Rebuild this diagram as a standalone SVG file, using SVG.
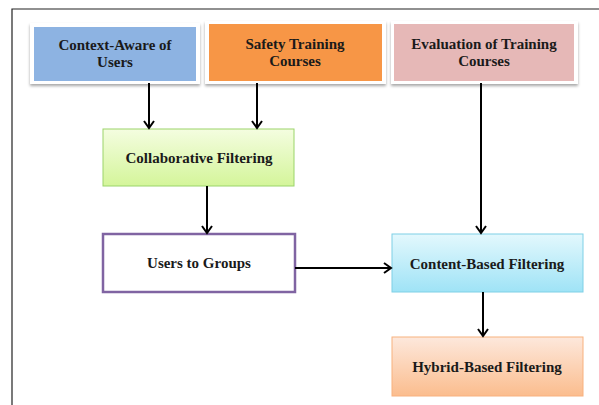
<svg xmlns="http://www.w3.org/2000/svg" width="599" height="405" viewBox="0 0 599 405">
<style>
.t{font-family:"Liberation Serif","Times New Roman",serif;font-weight:bold;font-size:15px;fill:#1a1a1a;text-anchor:middle}
.c{stroke:#000;stroke-width:2;fill:none}
.frame{fill:#fff;filter:url(#sh)}
</style>
<defs>
<filter id="sh" x="-10%" y="-10%" width="120%" height="130%">
<feDropShadow dx="0" dy="2" stdDeviation="1.5" flood-color="#000" flood-opacity="0.35"/>
</filter>
<marker id="ah" markerWidth="12" markerHeight="12" refX="10" refY="6" orient="auto" markerUnits="userSpaceOnUse">
<polyline points="3,1 10,6 3,11" fill="none" stroke="#000" stroke-width="2"/>
</marker>
<linearGradient id="gGreen" x1="0" y1="0" x2="0" y2="1">
<stop offset="0" stop-color="#f4fde0"/><stop offset="1" stop-color="#d4f59a"/>
</linearGradient>
<linearGradient id="gBlue" x1="0" y1="0" x2="0" y2="1">
<stop offset="0" stop-color="#e3f8fd"/><stop offset="1" stop-color="#9fe3f6"/>
</linearGradient>
<linearGradient id="gOrange" x1="0" y1="0" x2="0" y2="1">
<stop offset="0" stop-color="#fde8dc"/><stop offset="1" stop-color="#fbbd8e"/>
</linearGradient>
</defs>
<rect x="0" y="0" width="599" height="405" fill="#fff"/>
<path d="M12,405 V9 H599" fill="none" stroke="#222" stroke-width="1.2"/>

<g id="n1">
<rect class="frame" x="30" y="23" width="170" height="61"/>
<rect x="34" y="27" width="162" height="54" fill="#8db3e2"/>
<text class="t" x="115" y="50">Context-Aware of</text>
<text class="t" x="115" y="67">Users</text>
</g>
<g id="n2">
<rect class="frame" x="205" y="21" width="181" height="63"/>
<rect x="209" y="24" width="173" height="57" fill="#f79646"/>
<text class="t" x="295" y="49">Safety Training</text>
<text class="t" x="295" y="66">Courses</text>
</g>
<g id="n3">
<rect class="frame" x="391" y="21" width="187" height="63"/>
<rect x="394" y="24" width="180" height="57" fill="#e6b8b7"/>
<text class="t" x="484" y="49">Evaluation of Training</text>
<text class="t" x="484" y="66">Courses</text>
</g>
<g id="n4">
<rect x="103" y="129" width="191" height="57" fill="url(#gGreen)" stroke="#9bd46a" stroke-width="1"/>
<text class="t" x="199" y="163">Collaborative Filtering</text>
</g>
<g id="n5">
<rect x="103" y="234" width="192" height="58" fill="#fff" stroke="#8064a2" stroke-width="2.5"/>
<text class="t" x="199" y="268">Users to Groups</text>
</g>
<g id="n6">
<rect x="392" y="234" width="191" height="58" fill="url(#gBlue)" stroke="#7fd0e6" stroke-width="1"/>
<text class="t" x="487" y="269">Content-Based Filtering</text>
</g>
<g id="n7">
<rect x="392" y="337" width="191" height="59" fill="url(#gOrange)" stroke="#f8b17f" stroke-width="1"/>
<text class="t" x="487" y="372">Hybrid-Based Filtering</text>
</g>

<g id="connectors">
<line class="c" x1="149" y1="83" x2="149" y2="128" marker-end="url(#ah)"/>
<line class="c" x1="257" y1="83" x2="257" y2="128" marker-end="url(#ah)"/>
<line class="c" x1="481" y1="83" x2="481" y2="233" marker-end="url(#ah)"/>
<line class="c" x1="207" y1="186" x2="207" y2="233" marker-end="url(#ah)"/>
<line class="c" x1="295" y1="268" x2="391" y2="268" marker-end="url(#ah)"/>
<line class="c" x1="483" y1="292" x2="483" y2="336" marker-end="url(#ah)"/>
</g>
</svg>
